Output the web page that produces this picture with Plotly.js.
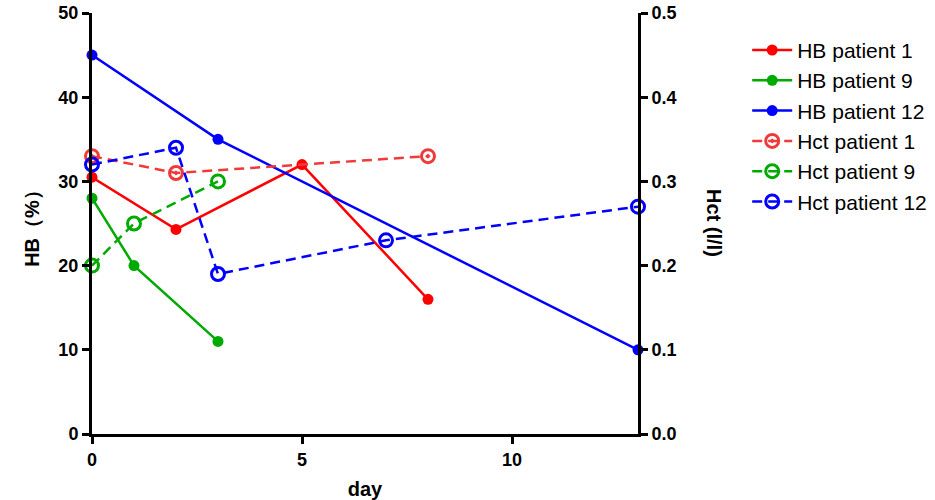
<!DOCTYPE html>
<html>
<head>
<meta charset="utf-8">
<script src="https://cdn.plot.ly/plotly-3.0.1.min.js"></script>
<style>
  body { margin: 0; background: #fff; }
  #chart { width: 935px; height: 500px; }
</style>
</head>
<body>
<div id="chart"></div>
<script>
// values
const hbDays1 = [0, 2, 5, 8];
const hbVals1 = [30.5, 24.3, 32, 16];
const hbDays9 = [0, 1, 3];
const hbVals9 = [28, 20, 11];
const hbDays12 = [0, 3, 13];
const hbVals12 = [45, 35, 10];

const hctDays1 = [0, 2, 8];
const hctVals1 = [0.33, 0.31, 0.33];
const hctDays9 = [0, 1, 3];
const hctVals9 = [0.20, 0.25, 0.30];
const hctDays12 = [0, 2, 3, 7, 13];
const hctVals12 = [0.32, 0.34, 0.19, 0.23, 0.27];

const RED = '#ff0000';
const GREEN = '#00aa00';
const BLUE = '#0000ff';

function hbTrace(name, x, y, color) {
    return {
        x: x, y: y, name: name,
        type: 'scatter', mode: 'lines+markers',
        line: { color: color, width: 2.5 },
        marker: { color: color, size: 11, symbol: 'circle' },
        cliponaxis: false,
        yaxis: 'y'
    };
}

function hctTrace(name, x, y, color, symbol) {
    return {
        x: x, y: y, name: name,
        type: 'scatter', mode: 'lines+markers',
        line: { color: color, width: 2.5, dash: '10px,6px' },
        marker: { color: color, size: 13, symbol: symbol, line: { color: color, width: 3 } },
        cliponaxis: false,
        yaxis: 'y2'
    };
}

const traces = [
    hbTrace('HB patient 1', hbDays1, hbVals1, RED),
    hbTrace('HB patient 9', hbDays9, hbVals9, GREEN),
    hbTrace('HB patient 12', hbDays12, hbVals12, BLUE),
    hctTrace('Hct patient 1', hctDays1, hctVals1, '#f03a3a', 'circle-open-dot'),
    hctTrace('Hct patient 9', hctDays9, hctVals9, GREEN, 'circle-open'),
    hctTrace('Hct patient 12', hctDays12, hctVals12, BLUE, 'circle-open')
];

const tickFont = { family: 'Liberation Sans, Arial, sans-serif', size: 18, color: '#000', weight: 'bold' };
const axisCommon = {
    showline: true, linecolor: '#000', linewidth: 3,
    ticks: 'outside', ticklen: 7, tickwidth: 3, tickcolor: '#000',
    showgrid: false, zeroline: false,
    tickfont: tickFont
};

const layout = {
    width: 935, height: 500,
    margin: { l: 92, r: 297, t: 13, b: 66, autoexpand: false },
    paper_bgcolor: '#fff', plot_bgcolor: '#fff',
    font: { family: 'Liberation Sans, Arial, sans-serif', color: '#000' },
    showlegend: true,
    legend: {
        x: 1.2, xanchor: 'left', y: 0.96, yanchor: 'top',
        font: { family: 'Liberation Sans, Arial, sans-serif', size: 21, color: '#000' },
        tracegroupgap: 0, itemwidth: 40
    },
    xaxis: Object.assign({}, axisCommon, {
        range: [0, 13], tickvals: [0, 5, 10],
        title: { text: 'day', font: { size: 20, weight: 'bold' }, standoff: 14 }
    }),
    yaxis: Object.assign({}, axisCommon, {
        range: [0, 50], tickvals: [0, 10, 20, 30, 40, 50],
        title: { text: 'HB\uFF08%\uFF09', font: { size: 20, weight: 'bold' }, standoff: 14 }
    }),
    yaxis2: Object.assign({}, axisCommon, {
        range: [0, 0.5], tickvals: [0, 0.1, 0.2, 0.3, 0.4, 0.5],
        tickformat: '.1f',
        overlaying: 'y', side: 'right'
    }),
    annotations: [{
        text: 'Hct (l/l)', textangle: 90,
        xref: 'paper', yref: 'paper', x: 1.14, y: 0.5,
        xanchor: 'center', yanchor: 'middle', showarrow: false,
        font: { size: 20, weight: 'bold', color: '#000' }
    }]
};

Plotly.newPlot('chart', traces, layout, { displayModeBar: false, staticPlot: true });
</script>
</body>
</html>
